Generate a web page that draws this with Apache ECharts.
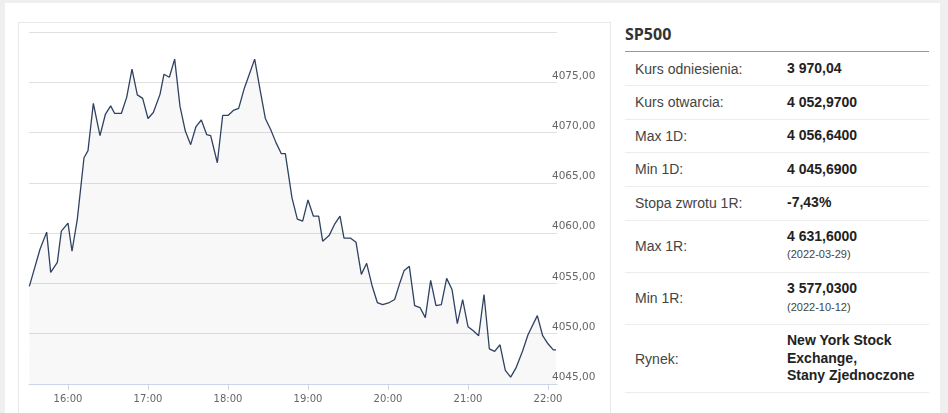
<!DOCTYPE html>
<html>
<head>
<meta charset="utf-8">
<title>SP500</title>
<script src="https://cdn.jsdelivr.net/npm/echarts/dist/echarts.min.js"></script>
<style>
  html, body { margin: 0; padding: 0; background: #efefef; width: 948px; height: 413px; overflow: hidden; }
  #page { position: absolute; left: 5px; top: 3px; width: 935px; height: 420px; background: #fff; }
  #panel { position: absolute; left: 18px; top: 22px; width: 591px; height: 400px; border: 1px solid #e8e8e8; border-bottom: none; }
  #box1 { position: absolute; left: 18px; top: 22px; width: 592px; height: 391px; }
  #info { position: absolute; left: 625px; top: 22px; width: 304px; font-family: "Liberation Sans", Arial, sans-serif; }
  #info h3 { margin: 0; height: 29px; line-height: 24px; padding-top: 0; font-family: "Open Sans", sans-serif; font-weight: bold; font-size: 16px; color: #333; border-bottom: 1px solid #999; }
  .row { display: flex; align-items: center; border-bottom: 1px solid #ececec; box-sizing: border-box; }
  .lab { width: 152px; padding-left: 10px; font-size: 14px; color: #444; }
  .val { font-size: 14px; font-weight: bold; color: #222; line-height: 17.5px; }
  .val small { display: block; font-weight: normal; font-size: 11px; color: #444; line-height: 19px; }
</style>
</head>
<body>
<div id="page"></div>
<div id="panel"></div>
<div id="box1"></div>
<div id="info"></div>
<script>
/*SP500 intraday*/
var times = ['15:31','15:39','15:44','15:47','15:52','15:55','16:00','16:03','16:07','16:12',
  '16:15','16:19','16:24','16:28','16:32','16:35','16:40','16:44','16:48','16:52',
  '16:56','17:00','17:04','17:09','17:12','17:16','17:20','17:24','17:28','17:32',
  '17:36','17:40','17:44','17:47','17:52','17:56','18:00','18:04','18:08','18:12',
  '18:16','18:20','18:24','18:28','18:32','18:36','18:40','18:43','18:48','18:52',
  '18:56','19:00','19:04','19:08','19:11','19:16','19:20','19:24','19:27','19:32',
  '19:36','19:40','19:44','19:48','19:52','19:56','20:01','20:05','20:09','20:12',
  '20:16','20:20','20:24','20:28','20:32','20:36','20:40','20:44','20:48','20:52',
  '20:56','21:00','21:04','21:08','21:12','21:16','21:20','21:24','21:28','21:32',
  '21:36','21:41','21:45','21:52','21:56','22:00','22:04','22:06'];
var values = [4054.7, 4058.4, 4060.1, 4056.1, 4057.1, 4060.2, 4061.0, 4058.2, 4061.4, 4067.5,
  4068.2, 4072.9, 4069.7, 4071.8, 4072.65, 4071.9, 4071.9, 4073.5, 4076.3, 4073.75,
  4073.4, 4071.4, 4072.0, 4073.8, 4075.8, 4075.5, 4077.3, 4072.6, 4070.15, 4068.8,
  4070.6, 4071.25, 4069.8, 4069.7, 4067.0, 4071.7, 4071.7, 4072.2, 4072.4, 4074.3,
  4075.8, 4077.3, 4074.3, 4071.4, 4070.3, 4069.0, 4067.9, 4067.9, 4063.5, 4061.4,
  4061.2, 4063.3, 4061.7, 4061.7, 4059.2, 4059.8, 4060.9, 4061.7, 4059.5, 4059.5,
  4059.1, 4055.9, 4057.0, 4054.8, 4053.1, 4052.9, 4053.1, 4053.4, 4055.1, 4056.25,
  4056.7, 4052.8, 4052.6, 4051.6, 4055.3, 4052.8, 4052.9, 4055.5, 4054.4, 4051.0,
  4053.4, 4050.7, 4050.3, 4049.8, 4053.9, 4048.5, 4048.25, 4048.9, 4046.35, 4045.69,
  4046.6, 4048.3, 4049.9, 4051.8, 4049.8, 4049.0, 4048.4, 4048.4];
var day = '2023/01/20 ';
var axisStart = '15:30:45';
var axisEnd = '22:06:45';
var yMin = 4045, yMax = 4080, yStep = 5;

// tabela po prawej
var title = 'SP500';
var labels = ['Kurs odniesienia:', 'Kurs otwarcia:', 'Max 1D:', 'Min 1D:', 'Stopa zwrotu 1R:', 'Max 1R:', 'Min 1R:', 'Rynek:'];
var amounts = ['3 970,04', '4 052,9700', '4 056,6400', '4 045,6900', '-7,43%', '4 631,6000', '3 577,0300', 'New York Stock<br>Exchange,<br>Stany Zjednoczone'];
var dates = ['', '', '', '', '', '(2022-03-29)', '(2022-10-12)', ''];
var rowHeights = [34, 33.5, 33.5, 33.5, 34, 52, 52.5, 68];

var html = '<h3>' + title + '</h3>';
for (var i = 0; i < labels.length; i++) {
    html += '<div class="row" style="height:' + rowHeights[i] + 'px"><div class="lab">' + labels[i] + '</div>' +
        '<div class="val">' + amounts[i] + (dates[i] ? '<small>' + dates[i] + '</small>' : '') + '</div></div>';
}
document.getElementById('info').innerHTML = html;

var dom = document.getElementById("box1");
var myChart = echarts.init(dom);

var data = times.map(function (t, i) { return [day + t, values[i]]; });

option = {
    animation: false,
    grid: { left: 11, right: 53, top: 10, bottom: 29 },
    xAxis: {
        type: 'time',
        min: day + axisStart,
        max: day + axisEnd,
        minInterval: 3600 * 1000,
        maxInterval: 3600 * 1000,
        axisLine: { lineStyle: { color: '#ccd6eb' } },
        axisTick: { show: true, length: 6, lineStyle: { color: '#ccd6eb' } },
        splitLine: { show: false },
        axisLabel: {
            formatter: '{HH}:{mm}',
            color: '#666',
            fontSize: 10,
            fontFamily: 'DejaVu Sans',
            margin: 10,
            hideOverlap: false
        }
    },
    yAxis: {
        type: 'value',
        position: 'right',
        min: yMin,
        max: yMax,
        interval: yStep,
        axisLine: { show: false },
        axisTick: { show: false },
        splitLine: { lineStyle: { color: '#e0e0e0' } },
        axisLabel: {
            showMaxLabel: false,
            margin: -5,
            verticalAlign: 'bottom',
            lineHeight: 13,
            color: '#666',
            fontSize: 10.5,
            fontFamily: 'DejaVu Sans',
            formatter: function (v) { return v.toFixed(2).replace('.', ','); }
        }
    },
    series: [
        {
            type: 'line',
            data: data,
            showSymbol: false,
            lineStyle: { color: '#2f4260', width: 1.3 },
            itemStyle: { color: '#2f4260' },
            // polprzezroczyste, zeby etykieta 4045,00 i linie siatki byly widoczne
            areaStyle: { origin: 'start', color: 'rgba(47,66,96,0.05)' }
        }
    ]
};
if (option && typeof option === "object") {
    myChart.setOption(option, true);
}
</script>
</body>
</html>
